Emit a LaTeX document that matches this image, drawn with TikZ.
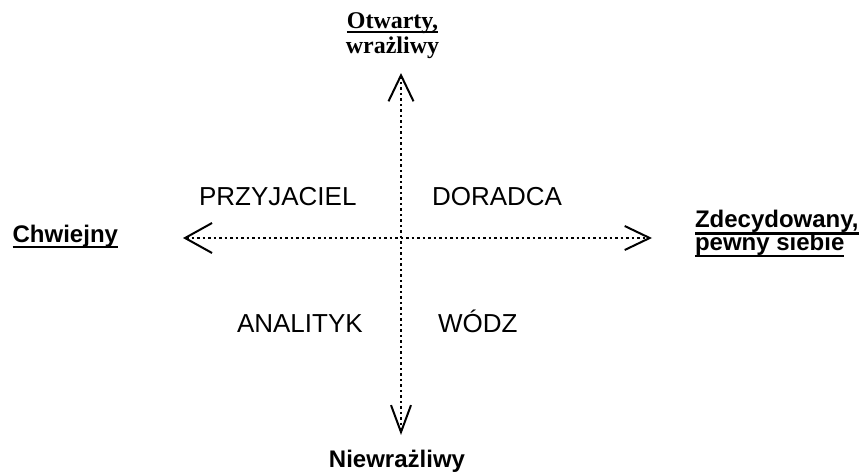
\documentclass[tikz,border=0pt]{standalone}
\usepackage{fontspec}
\setmainfont{Liberation Serif}
\setsansfont{Liberation Sans}
\usetikzlibrary{arrows.meta}
\newcommand\myul[2]{\leavevmode\setbox0\hbox{#2}\rlap{\rule[-#1]{\wd0}{2.2pt}}\box0}
\tikzset{
  lbl/.style={inner sep=0pt, outer sep=0pt},
  axislab/.style={lbl, font=\fontsize{24}{24}\selectfont\sffamily\bfseries},
  toplab/.style={lbl, font=\fontsize{24}{24}\selectfont\rmfamily\bfseries},
  quad/.style={lbl, font=\fontsize{26}{26}\selectfont\sffamily},
  axis/.style={line width=2.4pt, dash pattern=on 2.6pt off 2.9pt},
}
\begin{document}
\begin{tikzpicture}[x=1pt,y=-1pt]
\useasboundingbox (0,0) rectangle (864,474);
\coordinate (L) at (183,238);
\coordinate (R) at (652,238);
\coordinate (T) at (401,73);
\coordinate (B) at (401,435);
\draw[axis, {Straight Barb[length=27pt,width=30pt,line width=2pt]}-{Straight Barb[length=25pt,width=24pt,line width=2pt]}] (L) -- (R);
\draw[axis, {Straight Barb[length=26pt,width=25pt,line width=2pt]}-{Straight Barb[length=27pt,width=20pt,line width=2pt]}] (T) -- (B);
\node[toplab, anchor=base] (top1) at (392.5,28) {\myul{5pt}{Otwarty,}};
\node[toplab, anchor=base] (top2) at (392.5,53) {wrażliwy};
\node[axislab, anchor=base east] (left) at (118,242) {\myul{6pt}{Chwiejny}};
\node[axislab, anchor=base west] (right1) at (695,227) {\myul{7.5pt}{Zdecydowany,}};
\node[axislab, anchor=base west] (right2) at (695,250) {\myul{7pt}{pewny siebie}};
\node[axislab, anchor=base] (bottom) at (397,467.5) {Niewrażliwy};
\node[quad, anchor=base west] (q1) at (199,205) {PRZYJACIEL};
\node[quad, anchor=base west] (q2) at (432,205) {DORADCA};
\node[quad, anchor=base west] (q3) at (237,332) {ANALITYK};
\node[quad, anchor=base west] (q4) at (438,332) {WÓDZ};
\end{tikzpicture}
\end{document}
